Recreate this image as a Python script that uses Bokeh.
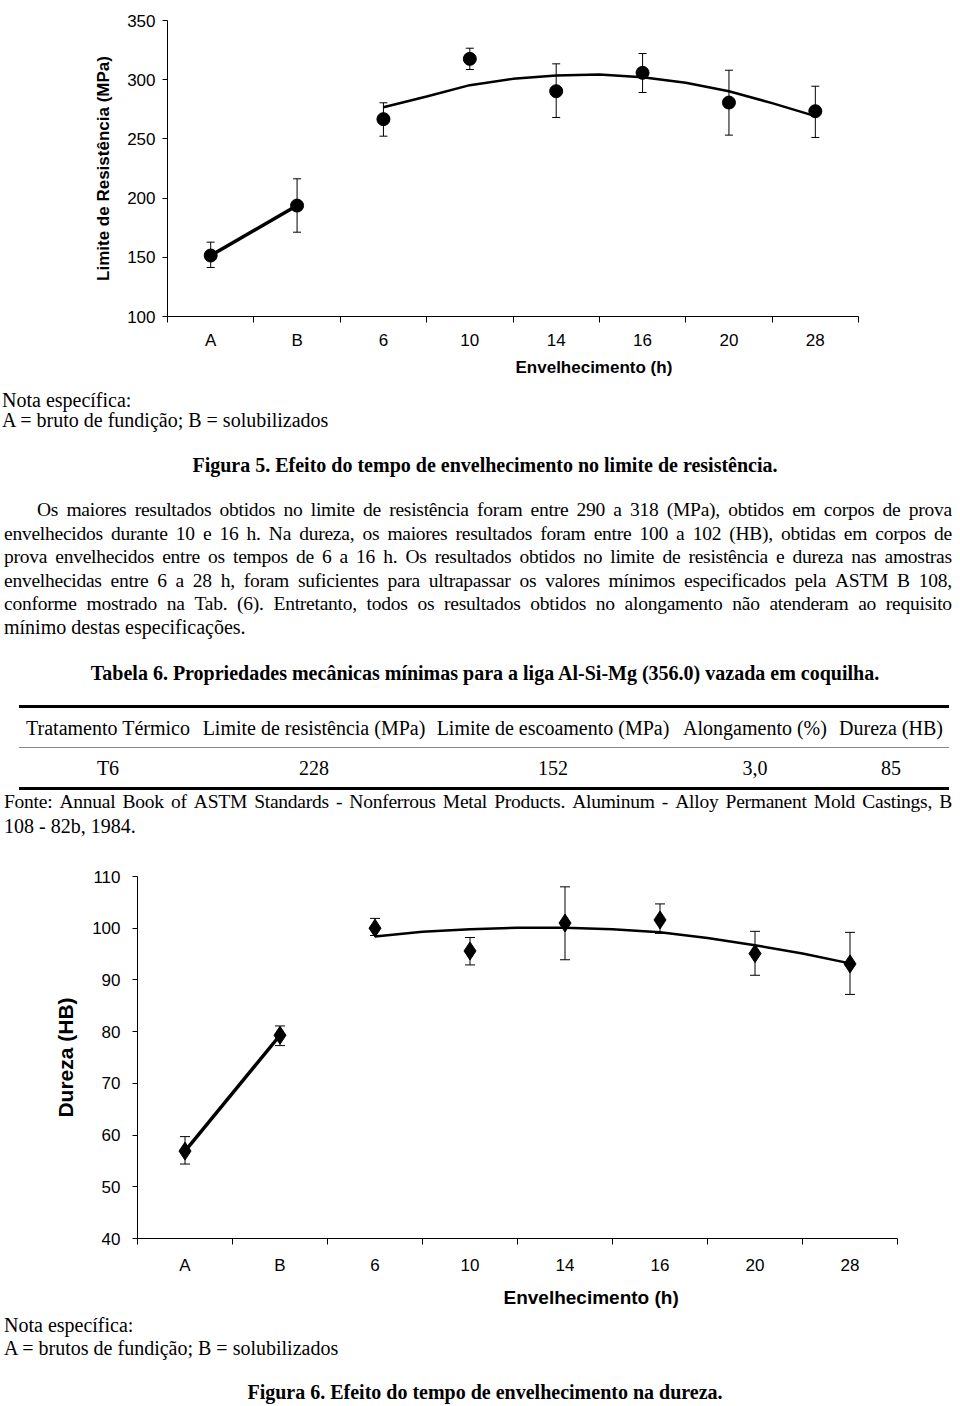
from bokeh.plotting import figure
from bokeh.models import Range1d, FixedTicker, Whisker, ColumnDataSource, Title, TeeHead, Div
from bokeh.layouts import column, row
from bokeh.embed import file_html
from bokeh.resources import INLINE

# ---------------- data ----------------
categories = ["A", "B", "6", "10", "14", "16", "20", "28"]

# Figura 5 - Limite de resistência (MPa)
lr_mean = [151.5, 193.7, 266.7, 317.6, 290.3, 305.8, 280.7, 273.4]
lr_upper = [162.8, 216.3, 280.5, 326.6, 313.4, 322.1, 308.0, 294.5]
lr_lower = [141.4, 171.2, 252.3, 308.6, 268.1, 289.2, 253.2, 251.2]
# trend line, at half-category steps from "6" to "28"
trend_steps = [2, 2.5, 3, 3.5, 4, 4.5, 5, 5.5, 6, 6.5, 7]
lr_trend = [276.8, 285.8, 295.4, 300.7, 303.5, 304.4, 302.1, 297.4, 290.3, 280.2, 269.2]
lr_ticks = [100, 150, 200, 250, 300, 350]

# Figura 6 - Dureza (HB)
du_mean = [56.9, 79.3, 100.0, 95.6, 101.0, 101.6, 95.1, 93.1]
du_upper = [59.7, 81.1, 101.9, 98.2, 108.0, 104.7, 99.4, 99.2]
du_lower = [54.4, 77.3, 98.6, 92.9, 93.9, 99.0, 90.9, 87.2]
du_trend = [98.4, 99.3, 99.8, 100.1, 100.1, 99.8, 99.2, 98.1, 96.7, 95.1, 93.2]
du_ticks = [40, 50, 60, 70, 80, 90, 100, 110]

SANS = "Liberation Sans"


def make_chart(mean, upper, lower, trend, yticks, ylabel, marker, msize,
               width, height, borders, ylab_size, ylab_standoff,
               ytick_standoff, xtick_standoff, xtitle_offset, xtitle_size,
               xtitle_standoff, tee):
    n = len(categories)
    centers = [i + 0.5 for i in range(n)]
    p = figure(width=width, height=height, output_backend="svg",
               toolbar_location=None, tools="",
               x_range=Range1d(0, n), y_range=Range1d(yticks[0], yticks[-1]))
    p.min_border_left, p.min_border_right, p.min_border_top, p.min_border_bottom = borders
    p.outline_line_color = None
    p.xgrid.visible = False
    p.ygrid.visible = False
    p.background_fill_color = "white"
    p.border_fill_color = "white"

    src = ColumnDataSource(dict(x=centers, y=mean, upper=upper, lower=lower))
    p.add_layout(Whisker(base="x", upper="upper", lower="lower", source=src,
                         line_color="black", line_width=1,
                         upper_head=TeeHead(size=tee, line_color="black", line_width=1),
                         lower_head=TeeHead(size=tee, line_color="black", line_width=1)))
    p.line(centers[:2], mean[:2], line_color="black", line_width=3.5)
    p.line([s + 0.5 for s in trend_steps], trend, line_color="black", line_width=2.5)
    p.scatter("x", "y", source=src, marker=marker, size=msize,
              fill_color="black", line_color="black")

    xa = p.xaxis[0]
    xa.ticker = FixedTicker(ticks=centers, minor_ticks=list(range(n + 1)))
    xa.major_label_overrides = {c: lab for c, lab in zip(centers, categories)}
    xa.major_tick_line_color = None
    xa.major_tick_out = 0
    xa.major_tick_in = 0
    xa.minor_tick_line_color = "black"
    xa.minor_tick_out = 6
    xa.minor_tick_in = 0
    xa.axis_line_color = "black"
    xa.major_label_text_font = SANS
    xa.major_label_text_font_size = "17px"
    xa.major_label_text_color = "black"
    xa.major_label_standoff = xtick_standoff

    ya = p.yaxis[0]
    ya.ticker = FixedTicker(ticks=yticks, minor_ticks=[])
    ya.major_tick_out = 5
    ya.major_tick_in = 0
    ya.major_tick_line_color = "black"
    ya.axis_line_color = "black"
    ya.major_label_text_font = SANS
    ya.major_label_text_font_size = "17px"
    ya.major_label_text_color = "black"
    ya.major_label_standoff = ytick_standoff
    ya.axis_label = ylabel
    ya.axis_label_text_font = SANS
    ya.axis_label_text_font_style = "bold"
    ya.axis_label_text_font_size = ylab_size
    ya.axis_label_text_color = "black"
    ya.axis_label_standoff = ylab_standoff

    p.add_layout(Title(text="Envelhecimento (h)", align="left", offset=xtitle_offset,
                       text_font=SANS, text_font_style="bold",
                       text_font_size=xtitle_size, text_color="black",
                       standoff=xtitle_standoff), "below")
    return p


p1 = make_chart(lr_mean, lr_upper, lr_lower, lr_trend, lr_ticks,
                "Limite de Resistência (MPa)", "circle", 13,
                960, 385, (167, 102, 20, 69), "17px", 11,
                7, 8, 348, "17px", 6, 8)

p2 = make_chart(du_mean, du_upper, du_lower, du_trend, du_ticks,
                "Dureza (HB)", "diamond", 18,
                960, 455, (137, 63, 17, 76), "21px", 12,
                12, 11, 366, "19px", 14, 10)

SERIF = "font-family:'Liberation Serif','Times New Roman',serif;font-size:20px;line-height:22px;color:#000;"


def line(top, text, left=0, bold=False, center_x=None):
    st = f"position:absolute;top:{top}px;white-space:nowrap;"
    if center_x is not None:
        st += f"left:{center_x}px;transform:translateX(-50%);"
    else:
        st += f"left:{left}px;"
    if bold:
        st += "font-weight:bold;"
    return f'<div style="{st}">{text}</div>'


def jline(top, text, left=0):
    words = "".join(f"<span>{w}</span>" for w in text.split(" "))
    st = (f"position:absolute;top:{top}px;left:{left}px;right:0;display:flex;"
          "justify-content:space-between;white-space:nowrap;"
          "font-size:19.5px;letter-spacing:-0.25px;")
    return f'<div style="{st}">{words}</div>'


para = [
    "Os maiores resultados obtidos no limite de resistência foram entre 290 a 318 (MPa), obtidos em corpos de prova",
    "envelhecidos durante 10 e 16 h. Na dureza, os maiores resultados foram entre 100 a 102 (HB), obtidas em corpos de",
    "prova envelhecidos entre os tempos de 6 a 16 h. Os resultados obtidos no limite de resistência e dureza nas amostras",
    "envelhecidas entre 6 a 28 h, foram suficientes para ultrapassar os valores mínimos especificados pela ASTM B 108,",
    "conforme mostrado na Tab. (6). Entretanto, todos os resultados obtidos no alongamento não atenderam ao requisito",
]
para_last = "mínimo destas especificações."
table_head = ["Tratamento Térmico", "Limite de resistência (MPa)", "Limite de escoamento (MPa)",
              "Alongamento (%)", "Dureza (HB)"]
table_row = ["T6", "228", "152", "3,0", "85"]
col_centers = [106, 312, 551, 753, 889]

CONT = "position:relative;left:-3px;top:-5px;width:950px;"

parts = [f'<div style="{CONT}height:464px;{SERIF}">']
parts.append(line(4, "Nota específica:"))
parts.append(line(24, "A = bruto de fundição; B = solubilizados"))
parts.append(line(69, "Figura 5. Efeito do tempo de envelhecimento no limite de resistência.", bold=True, center_x=483))
tops = [114, 138, 161, 185, 208]
for i, (t, txt) in enumerate(zip(tops, para)):
    parts.append(jline(t, txt, left=35 if i == 0 else 2))
parts.append(line(231, para_last, left=2))
parts.append(line(277, "Tabela 6. Propriedades mecânicas mínimas para a liga Al-Si-Mg (356.0) vazada em coquilha.", bold=True, center_x=483))
parts.append('<div style="position:absolute;left:17px;width:930px;top:320px;height:3px;background:#000;"></div>')
for c, h in zip(col_centers, table_head):
    parts.append(line(332, h, center_x=c))
parts.append('<div style="position:absolute;left:17px;width:930px;top:362px;height:1px;background:#888;"></div>')
for c, v in zip(col_centers, table_row):
    parts.append(line(372, v, center_x=c))
parts.append('<div style="position:absolute;left:17px;width:930px;top:402px;height:3px;background:#000;"></div>')
parts.append(jline(406, "Fonte: Annual Book of ASTM Standards - Nonferrous Metal Products. Aluminum - Alloy Permanent Mold Castings, B", left=2))
parts.append(line(430, "108 - 82b, 1984.", left=2))
parts.append('</div>')
div1 = Div(text="".join(parts), width=960, height=464)

parts2 = [f'<div style="{CONT}height:80px;{SERIF}">']
parts2.append(line(0, "Nota específica:", left=2))
parts2.append(line(23, "A = brutos de fundição; B = solubilizados", left=2))
parts2.append(line(67, "Figura 6. Efeito do tempo de envelhecimento na dureza.", bold=True, center_x=483))
parts2.append('</div>')
div2 = Div(text="".join(parts2), width=960, height=80)

layout = column(row(p1), div1, row(p2), div2, spacing=0)

open("out.html", "w").write(file_html(layout, INLINE))
